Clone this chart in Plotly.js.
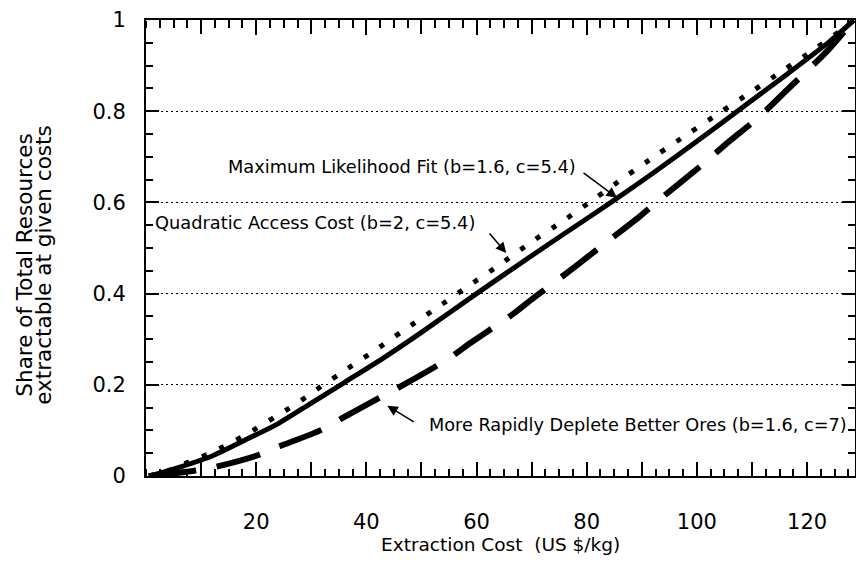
<!DOCTYPE html>
<html><head><meta charset="utf-8">
<script src="https://cdn.plot.ly/plotly-3.0.1.min.js"></script>
<style>html,body{margin:0;padding:0;overflow:hidden;background:#fff}</style>
</head><body><div id="chart" style="width:856px;height:580px"></div>
<script>
// Maximum Likelihood Fit (b=1.6, c=5.4) - solid
const mlX = [0.5, 3, 6, 12, 18, 24, 30, 36, 43, 50, 60, 70, 77, 85, 92, 100, 108, 116, 124, 128.5];
const mlY = [0, 0.008, 0.019, 0.044, 0.079, 0.115, 0.160, 0.205, 0.258, 0.315, 0.400, 0.483, 0.540, 0.605, 0.664, 0.734, 0.806, 0.878, 0.952, 1.0];
// Quadratic Access Cost (b=2, c=5.4) - dotted
const qaX = [0.5, 3.5, 6.5, 9.4, 12.1, 15.2, 17.9, 20.8, 23.6, 26.7, 29.3, 32.3, 35.1, 38.1, 40.9, 46.6, 52.7, 58.2, 64.3, 69.7, 75.8, 81.3, 87.2, 92.7, 98.6, 104.2, 110.2, 115.7, 121.6, 127.2, 128.5];
const qaY = [0, 0.009, 0.024, 0.039, 0.052, 0.072, 0.089, 0.110, 0.131, 0.154, 0.175, 0.201, 0.223, 0.248, 0.270, 0.318, 0.368, 0.414, 0.464, 0.511, 0.560, 0.607, 0.658, 0.704, 0.752, 0.797, 0.845, 0.890, 0.938, 0.987, 1.0];
// More Rapidly Deplete Better Ores (b=1.6, c=7) - dashed
const rdX = [1, 9, 12.6, 20.4, 24, 32, 35.6, 43.4, 47.2, 55, 58.8, 66.6, 70.3, 77.9, 81.8, 89.7, 93.3, 101.1, 104.9, 111.5, 116.3, 123.9, 128.5];
const rdY = [0, 0.012, 0.020, 0.046, 0.064, 0.102, 0.127, 0.178, 0.203, 0.258, 0.291, 0.355, 0.390, 0.459, 0.496, 0.570, 0.607, 0.684, 0.724, 0.790, 0.846, 0.935, 1.0];

const xTickVals = [10, 20, 30, 40, 50, 60, 70, 80, 90, 100, 110, 120];
const xTickText = ['', '20', '', '40', '', '60', '', '80', '', '100', '', '120'];

const labels = {
  ml: 'Maximum Likelihood Fit (b=1.6, c=5.4)',
  qa: 'Quadratic Access Cost (b=2, c=5.4)',
  rd: 'More Rapidly Deplete Better Ores (b=1.6, c=7)',
  xTitle: 'Extraction Cost&nbsp; (US $/kg)',
  yTitle1: 'Share of Total Resources',
  yTitle2: 'extractable at given costs'
};

const FONT = 'DejaVu Sans, Verdana, sans-serif';
const X_RANGE = [0, 128.7];

const traces = [
  {x: mlX, y: mlY, mode: 'lines', line: {color: '#000', width: 5, shape: 'spline', smoothing: 0.8}, name: labels.ml},
  {x: qaX, y: qaY, mode: 'lines', line: {color: '#000', width: 5, shape: 'spline', smoothing: 0.8, dash: '5px,14px'}, name: labels.qa},
  {x: rdX, y: rdY, mode: 'lines', line: {color: '#000', width: 6, shape: 'spline', smoothing: 0.8, dash: '45px,21px'}, name: labels.rd},
  // empty helper traces so the tick-only overlay axes get drawn
  {x: [], y: [], xaxis: 'x2', yaxis: 'y', mode: 'lines', hoverinfo: 'skip'},
  {x: [], y: [], xaxis: 'x3', yaxis: 'y', mode: 'lines', hoverinfo: 'skip'}
];

const tickOnlyAxis = (side, pos) => ({
  overlaying: 'x', anchor: 'free', position: pos, side: side,
  range: X_RANGE, showline: false, showticklabels: false, showgrid: false, zeroline: false,
  ticks: 'outside', ticklen: 14, tickwidth: 2, tickcolor: '#000',
  tickmode: 'array', tickvals: xTickVals, ticktext: xTickText,
  minor: {tickmode: 'linear', tick0: 0, dtick: 2.5, ticks: 'outside', ticklen: 7, tickwidth: 2, tickcolor: '#000', showgrid: false}
});

const layout = {
  width: 856, height: 580,
  margin: {l: 146, r: 1, t: 20, b: 104},
  paper_bgcolor: '#fff', plot_bgcolor: '#fff',
  showlegend: false,
  font: {family: FONT, color: '#000', size: 18},
  xaxis: {
    range: X_RANGE, showline: true, linecolor: '#000', linewidth: 2, mirror: 'ticks',
    ticks: 'inside', ticklen: 14, tickwidth: 2, tickcolor: '#000',
    tickmode: 'array', tickvals: xTickVals, ticktext: xTickText,
    tickfont: {size: 21, family: FONT}, ticklabelstandoff: 26,
    minor: {tickmode: 'linear', tick0: 0, dtick: 2.5, ticks: 'inside', ticklen: 7, tickwidth: 2, tickcolor: '#000', showgrid: false},
    showgrid: false, zeroline: false
  },
  xaxis2: tickOnlyAxis('top', 0),
  xaxis3: tickOnlyAxis('bottom', 1),
  yaxis: {
    range: [0, 1], showline: true, linecolor: '#000', linewidth: 2, mirror: 'ticks',
    ticks: 'inside', ticklen: 13, tickwidth: 2, tickcolor: '#000',
    dtick: 0.2, tick0: 0,
    tickfont: {size: 21, family: FONT}, ticklabelstandoff: 14,
    minor: {tickmode: 'linear', tick0: 0, dtick: 0.05, ticks: 'inside', ticklen: 7, tickwidth: 2, tickcolor: '#000', showgrid: false},
    showgrid: true, gridcolor: '#000', gridwidth: 1, griddash: '2px,3px', zeroline: false
  },
  annotations: [
    {x: 0.5, y: -0.151, xref: 'paper', yref: 'paper', text: labels.xTitle, showarrow: false, font: {size: 18.5, family: FONT}, xanchor: 'center', yanchor: 'middle'},
    {x: -0.171, y: 0.463, xref: 'paper', yref: 'paper', text: labels.yTitle1, textangle: -90, showarrow: false, font: {size: 21.5, family: FONT}, xanchor: 'center', yanchor: 'middle'},
    {x: -0.144, y: 0.463, xref: 'paper', yref: 'paper', text: labels.yTitle2, textangle: -90, showarrow: false, font: {size: 21.5, family: FONT}, xanchor: 'center', yanchor: 'middle'},
    {x: 46.5, y: 0.678, xref: 'x', yref: 'y', text: labels.ml, showarrow: false, font: {size: 17.8, family: FONT}},
    {x: 30.7, y: 0.557, xref: 'x', yref: 'y', text: labels.qa, showarrow: false, font: {size: 17.8, family: FONT}},
    {x: 89.3, y: 0.112, xref: 'x', yref: 'y', text: labels.rd, showarrow: false, font: {size: 17.7, family: FONT}},
    {x: 85.5, y: 0.61, xref: 'x', yref: 'y', text: '', showarrow: true, ax: -35, ay: -26, arrowhead: 2, arrowsize: 1.4, arrowwidth: 1.5, arrowcolor: '#000', standoff: 0},
    {x: 65.4, y: 0.489, xref: 'x', yref: 'y', text: '', showarrow: true, ax: -18, ay: -21, arrowhead: 2, arrowsize: 1.4, arrowwidth: 1.5, arrowcolor: '#000', standoff: 0},
    {x: 43.8, y: 0.154, xref: 'x', yref: 'y', text: '', showarrow: true, ax: 28, ay: 17, arrowhead: 2, arrowsize: 1.4, arrowwidth: 1.5, arrowcolor: '#000', standoff: 0}
  ]
};

Plotly.newPlot('chart', traces, layout, {staticPlot: true, displayModeBar: false});
</script></body></html>
